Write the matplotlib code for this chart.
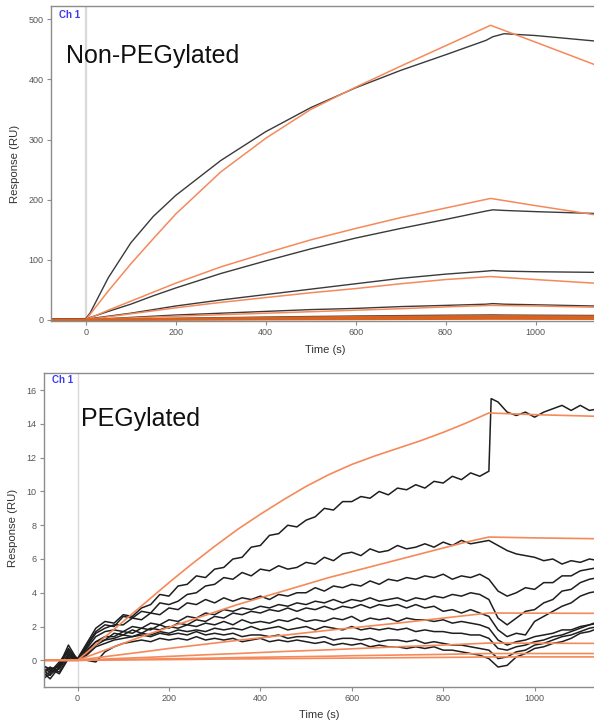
import numpy as np
import matplotlib
matplotlib.use('Agg')
import matplotlib.pyplot as plt

plt.rcParams['font.family'] = ['Liberation Sans', 'DejaVu Sans']

# ---------------- top panel : Non-PEGylated (smooth curves) ----------------
black_time_top = [-78, 0, 10, 50, 100, 150, 200, 300, 400, 500, 600, 700, 800, 890, 905, 930, 1000, 1130]
black_a = [1, 2, 12, 70, 128, 172, 207, 265, 313, 353, 386, 415, 441, 465, 471, 476, 473, 464]
black_b = [1, 2, 4, 14, 26, 40, 53, 77, 98, 118, 136, 152, 167, 181, 183, 182, 180, 177]
black_c = [1, 1, 2, 6, 11, 17, 23, 33, 42, 51, 60, 69, 76, 81, 82, 81, 80, 79]
black_d = [1, 0, 1, 2, 4, 6, 8, 11, 14, 17, 19, 22, 24, 26, 27, 26, 25, 23]
black_e = [1.5, 0, 0.5, 1, 1.5, 2, 2.5, 3.5, 4.5, 5.5, 6.3, 7, 7.6, 8, 8.1, 7.9, 7.6, 7.2]
black_f = [1, 0, 0.3, 0.6, 1, 1.3, 1.6, 2.2, 2.8, 3.3, 3.8, 4.2, 4.5, 4.8, 4.8, 4.7, 4.6, 4.4]

fit_time_top = [-78, 0, 50, 100, 150, 200, 300, 400, 500, 600, 700, 800, 900, 1000, 1130]
orange_a = [0, 0, 48, 93, 135, 176, 246, 302, 350, 387, 422, 456, 490, 462, 425]
orange_b = [0, 0, 16, 31, 46, 61, 88, 111, 133, 152, 170, 186, 202, 190, 175]
orange_c = [0, 0, 5, 10, 15, 20, 29, 37, 45, 52, 60, 67, 72, 67, 61]
orange_d = [0, 0, 1.5, 3, 4.5, 6, 8.5, 11, 13.5, 16, 18.5, 21.5, 24, 23, 21]
orange_e = [0, 0, 0.4, 0.8, 1.2, 1.6, 2.4, 3.2, 4.0, 4.7, 5.3, 5.8, 6.2, 5.9, 5.6]
orange_f = [0, 0, 0.2, 0.4, 0.6, 0.8, 1.2, 1.6, 2.0, 2.4, 2.7, 3.0, 3.3, 3.1, 2.9]
orange_g = [0, 0, 0.1, 0.2, 0.3, 0.4, 0.6, 0.8, 1.0, 1.2, 1.4, 1.6, 1.8, 1.7, 1.6]

# ---------------- bottom panel : PEGylated (noisy curves) ----------------
peg_time = np.arange(-80, 1141, 20)
b1_time = list(range(-80, 901, 20)) + [905] + list(range(920, 1141, 20))
peg_b1 = [-0.4, -0.7, -0.1, 0.6, 0.1, 1.0, 1.9, 2.3, 2.2, 2.7,
          2.6, 3.1, 3.3, 3.9, 3.8, 4.4, 4.5, 5.0, 4.9, 5.4,
          5.5, 6.0, 6.1, 6.7, 6.8, 7.4, 7.5, 8.0, 7.9, 8.3,
          8.5, 9.0, 8.9, 9.4, 9.4, 9.7, 9.6, 10.0, 9.8, 10.2,
          10.1, 10.4, 10.2, 10.6, 10.5, 10.9, 10.7, 11.1, 10.9, 11.2,
          15.5,
          15.3, 14.7, 14.5, 14.7, 14.4, 14.7, 14.9, 15.1, 14.8, 15.1,
          14.8, 14.9]
peg_b2 = [-0.8, -0.5, -0.4, 0.7, 0.0, 0.9, 1.7, 2.1, 2.0, 2.6,
          2.5, 2.9, 2.8, 3.4, 3.3, 3.5, 3.9, 4.0, 4.4, 4.5,
          4.9, 4.8, 5.2, 5.0, 5.4, 5.3, 5.6, 5.4, 5.5, 5.8,
          5.7, 6.1, 5.9, 6.3, 6.4, 6.2, 6.6, 6.4, 6.5, 6.8,
          6.6, 6.7, 6.9, 6.7, 7.0, 6.8, 7.1, 6.9, 7.0, 7.1,
          6.8, 6.5, 6.3, 6.2, 6.1, 5.9, 6.0, 5.7, 5.9, 5.8,
          6.0, 5.9]
peg_b3 = [-1.2, -0.8, -0.5, 0.3, 0.0, 0.8, 1.6, 1.9, 2.1, 2.1,
          2.5, 2.4, 2.8, 2.7, 3.1, 3.0, 3.4, 3.3, 3.6, 3.4,
          3.7, 3.5, 3.7, 3.6, 3.8, 3.6, 3.9, 3.8, 4.0, 4.0,
          4.3, 4.1, 4.4, 4.3, 4.5, 4.4, 4.7, 4.5, 4.8, 4.7,
          4.9, 4.8, 5.0, 4.9, 5.1, 4.8, 5.0, 4.9, 5.1, 4.8,
          4.1, 3.8, 4.0, 4.3, 4.2, 4.6, 4.6, 5.0, 5.0, 5.3,
          5.4, 5.5]
peg_b4 = [-0.5, -0.9, -0.2, 0.5, 0.0, 0.7, 1.4, 1.7, 1.8, 1.7,
          2.0, 1.9, 2.2, 2.1, 2.4, 2.3, 2.6, 2.5, 2.8, 2.7,
          3.0, 2.9, 3.1, 3.0, 3.2, 3.1, 3.3, 3.2, 3.4, 3.3,
          3.5, 3.4, 3.6, 3.4, 3.6, 3.5, 3.7, 3.5, 3.6, 3.7,
          3.5, 3.7, 3.6, 3.8, 3.7, 3.9, 3.8, 4.0, 3.9, 3.6,
          2.5, 2.1, 2.5, 2.9, 3.0, 3.4, 3.6, 4.1, 4.2, 4.6,
          4.8, 4.9]
peg_b5 = [-0.9, -0.4, -0.7, 0.2, 0.0, 0.6, 1.1, 1.4, 1.4, 1.7,
          1.6, 1.9, 1.8, 2.1, 1.9, 2.2, 2.1, 2.4, 2.3, 2.6,
          2.5, 2.8, 2.7, 2.9, 2.8, 3.0, 2.9, 3.1, 2.9, 3.1,
          3.0, 3.2, 3.0, 3.2, 3.1, 3.3, 3.1, 3.3, 3.2, 3.3,
          3.1, 3.3, 3.1, 3.2, 2.9, 3.0, 2.8, 3.0, 2.8, 2.6,
          1.8, 1.4, 1.6, 1.5, 2.3, 2.6, 2.9, 3.2, 3.4, 3.8,
          4.0, 4.1]
peg_b6 = [-0.2, -0.6, -0.3, 0.9, 0.0, 0.5, 1.1, 1.2, 1.6, 1.5,
          1.8, 1.6, 1.9, 1.8, 2.0, 1.9, 2.1, 2.0, 2.2, 2.1,
          2.3, 2.1, 2.4, 2.2, 2.3, 2.2, 2.4, 2.3, 2.5, 2.3,
          2.4, 2.3, 2.5, 2.4, 2.6, 2.3, 2.5, 2.4, 2.5, 2.3,
          2.5, 2.4, 2.4, 2.3, 2.4, 2.2, 2.3, 2.2, 2.1, 1.9,
          1.2, 0.9, 1.1, 1.2, 1.4, 1.5, 1.6, 1.8, 1.8, 2.0,
          2.1, 2.2]
peg_b7 = [-1.0, -0.7, -0.5, 0.4, 0.0, 0.4, 0.9, 1.2, 1.3, 1.5,
          1.4, 1.6, 1.5, 1.7, 1.6, 1.8, 1.7, 1.8, 1.7, 1.9,
          1.8, 1.9, 1.8, 2.0, 1.8, 1.9, 2.0, 1.8, 1.9, 2.0,
          1.8, 2.0, 1.9, 1.8, 2.0, 1.8, 1.9, 1.8, 1.9, 1.8,
          1.9, 1.7, 1.8, 1.7, 1.7, 1.6, 1.6, 1.5, 1.5, 1.3,
          0.7, 0.6, 0.8, 0.9, 1.1, 1.2, 1.4, 1.5, 1.7, 1.9,
          2.1, 2.3]
peg_b8 = [-0.6, -1.1, -0.4, 0.3, 0.0, 0.3, 0.8, 1.0, 1.2, 1.3,
          1.4, 1.5, 1.4, 1.6, 1.5, 1.6, 1.5, 1.7, 1.5, 1.6,
          1.5, 1.6, 1.4, 1.5, 1.5, 1.4, 1.5, 1.3, 1.4, 1.4,
          1.3, 1.4, 1.2, 1.3, 1.3, 1.2, 1.3, 1.1, 1.2, 1.2,
          1.1, 1.2, 1.0, 1.1, 1.0, 0.9, 0.9, 0.8, 0.7, 0.6,
          0.1, 0.2, 0.5, 0.6, 0.9, 1.0, 1.2, 1.4, 1.5, 1.7,
          1.9, 2.0]
peg_b9 = [-0.3, -0.5, -0.8, 0.1, 0.0, 0.0, -0.1, 0.5, 0.8, 1.0,
          1.1, 1.2, 1.1, 1.3, 1.2, 1.3, 1.2, 1.4, 1.2, 1.3,
          1.2, 1.3, 1.1, 1.2, 1.3, 1.1, 1.2, 1.1, 1.2, 1.1,
          1.0, 1.1, 0.9, 1.0, 0.9, 1.0, 0.8, 0.9, 0.8, 0.8,
          0.7, 0.8, 0.7, 0.8, 0.6, 0.6, 0.5, 0.4, 0.3, 0.1,
          -0.4, -0.3, 0.2, 0.4, 0.7, 0.8, 1.0, 1.1, 1.3, 1.6,
          1.7, 1.9]

fit_time_bottom = [-80, 0, 50, 100, 150, 200, 250, 300, 350, 400, 450, 500, 550, 600, 650, 700, 750, 800, 850, 900, 1000, 1140]
peg_orange_1 = [0, 0, 1.15, 2.3, 3.45, 4.6, 5.7, 6.75, 7.75, 8.65, 9.5, 10.3, 11.0, 11.6, 12.1, 12.55, 13.0, 13.5, 14.05, 14.65, 14.55, 14.45]
peg_orange_2 = [0, 0, 0.5, 1.0, 1.5, 1.95, 2.4, 2.85, 3.3, 3.7, 4.1, 4.5, 4.9, 5.25, 5.6, 5.95, 6.3, 6.65, 7.0, 7.3, 7.25, 7.2]
peg_orange_3 = [0, 0, 0.18, 0.35, 0.52, 0.7, 0.86, 1.02, 1.18, 1.33, 1.48, 1.63, 1.78, 1.92, 2.06, 2.2, 2.35, 2.5, 2.65, 2.8, 2.79, 2.78]
peg_orange_4 = [0, 0, 0.06, 0.12, 0.17, 0.23, 0.29, 0.35, 0.4, 0.46, 0.52, 0.57, 0.62, 0.68, 0.74, 0.8, 0.85, 0.9, 0.96, 1.02, 1.01, 1.0]
peg_orange_5 = [0, 0, 0.02, 0.05, 0.07, 0.09, 0.11, 0.13, 0.16, 0.18, 0.2, 0.22, 0.24, 0.27, 0.29, 0.31, 0.33, 0.35, 0.38, 0.4, 0.4, 0.4]
peg_orange_6 = [0, 0, 0.01, 0.02, 0.03, 0.04, 0.05, 0.07, 0.08, 0.09, 0.1, 0.11, 0.12, 0.13, 0.14, 0.15, 0.16, 0.17, 0.18, 0.2, 0.2, 0.2]

x_ticks = [0, 200, 400, 600, 800, 1000]
top_y_ticks = [0, 100, 200, 300, 400, 500]
bottom_y_ticks = [0, 2, 4, 6, 8, 10, 12, 14, 16]

BLACK = '#1e1e1e'
ORANGE = '#f5895a'


def style_axes(ax):
    for side in ['left', 'top', 'bottom']:
        ax.spines[side].set_color('#8c8c8c')
        ax.spines[side].set_linewidth(1.0)
    ax.spines['right'].set_visible(False)
    ax.tick_params(direction='out', length=3, width=0.8, color='#8c8c8c',
                   labelcolor='#555555', labelsize=6.5, pad=2)
    ax.set_xticks(x_ticks)


fig = plt.figure(figsize=(5.94, 7.24), dpi=100)

# top
ax1 = fig.add_axes([0.0854, 0.5566, 0.9146, 0.435])
style_axes(ax1)
ax1.axvline(0, color='#d9d9d9', lw=1.6, zorder=0)
for ys in [black_a, black_b, black_c, black_d, black_e, black_f]:
    ax1.plot(black_time_top, ys, color='#3a3a3a', lw=1.0)
for ys in [orange_a, orange_b, orange_c, orange_d]:
    ax1.plot(fit_time_top, ys, color=ORANGE, lw=1.1)
for ys in [orange_e, orange_f, orange_g]:
    ax1.plot(fit_time_top, ys, color='#d8621f', lw=1.6)
ax1.set_xlim(-78, 1130)
ax1.set_ylim(-2, 522)
ax1.set_yticks(top_y_ticks)
ax1.set_xlabel('Time (s)', fontsize=8, color='#333333')
ax1.set_ylabel('Response (RU)', fontsize=8.2, color='#333333')
ax1.xaxis.set_label_coords(0.506, -0.075)
ax1.yaxis.set_label_coords(-0.057, 0.5)
ax1.text(0.016, 0.971, 'Ch 1', transform=ax1.transAxes, color='#3b3bf0',
         fontsize=7, fontweight='bold', va='center', ha='left')
ax1.text(0.028, 0.818, 'Non-PEGylated', transform=ax1.transAxes,
         fontsize=18, va='baseline', ha='left', color='#111111')

# bottom
ax2 = fig.add_axes([0.0736, 0.0507, 0.9264, 0.4337])
style_axes(ax2)
ax2.axvline(0, color='#d9d9d9', lw=1.0, zorder=0)
ax2.plot(b1_time, peg_b1, color=BLACK, lw=1.1)
for ys in [peg_b2, peg_b3, peg_b4, peg_b5, peg_b6, peg_b7, peg_b8, peg_b9]:
    ax2.plot(peg_time, ys, color=BLACK, lw=1.1)
for ys in [peg_orange_1, peg_orange_2, peg_orange_3, peg_orange_4, peg_orange_5, peg_orange_6]:
    ax2.plot(fit_time_bottom, ys, color=ORANGE, lw=1.2)
ax2.set_xlim(-74, 1130)
ax2.set_ylim(-1.6, 17.0)
ax2.set_yticks(bottom_y_ticks)
ax2.set_xlabel('Time (s)', fontsize=8, color='#333333')
ax2.set_ylabel('Response (RU)', fontsize=8.2, color='#333333')
ax2.xaxis.set_label_coords(0.501, -0.072)
ax2.yaxis.set_label_coords(-0.047, 0.507)
ax2.text(0.0145, 0.979, 'Ch 1', transform=ax2.transAxes, color='#3b3bf0',
         fontsize=7, fontweight='bold', va='center', ha='left')
ax2.text(0.068, 0.833, 'PEGylated', transform=ax2.transAxes,
         fontsize=18, va='baseline', ha='left', color='#111111')

fig.savefig('out.png', dpi=100)
